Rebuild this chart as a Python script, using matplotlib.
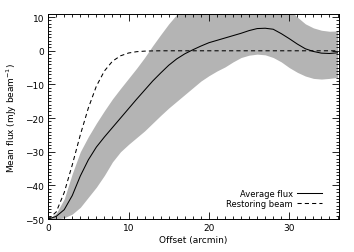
import numpy as np
import matplotlib
matplotlib.use("Agg")
import matplotlib.pyplot as plt
from matplotlib.ticker import MultipleLocator

#Offset in arcmin
offset = [0, 1, 2, 3, 4, 5, 6, 7, 8, 9, 10, 11, 12, 13, 14, 15, 16, 17, 18,
          19, 20, 21, 22, 23, 24, 25, 26, 27, 28, 29, 30, 31, 32, 33, 34, 35, 36]

#Average flux and its spread
mean_flux = [-50, -49.2, -47.2, -43.0, -37.2, -32.4, -28.6, -25.6, -22.8, -20.0,
             -17.2, -14.4, -11.7, -9.0, -6.6, -4.3, -2.4, -0.9, 0.3, 1.4, 2.4,
             3.1, 3.8, 4.5, 5.2, 6.0, 6.6, 6.7, 6.4, 5.1, 3.6, 2.0, 0.6, -0.2,
             -0.7, -0.8, -0.6]
upper_flux = [-50, -48.3, -44.0, -36.5, -30.0, -25.5, -21.5, -17.8, -14.3, -11.2,
              -8.2, -5.2, -2.0, 1.5, 4.8, 8.0, 10.8, 13.5, 15.5, 17.0, 18.0,
              18.5, 19.0, 19.3, 19.5, 19.3, 19.0, 18.0, 16.5, 14.5, 12.2, 10.0,
              8.0, 6.8, 6.1, 5.8, 5.9]
lower_flux = [-50, -50, -49.6, -48.5, -46.5, -43.5, -40.5, -37.0, -33.0, -30.0,
              -27.8, -25.8, -23.8, -21.5, -19.2, -17.0, -15.0, -13.0, -11.0,
              -9.0, -7.4, -6.0, -4.8, -3.3, -2.0, -1.3, -1.0, -1.2, -2.0, -3.3,
              -5.0, -6.4, -7.5, -8.2, -8.4, -8.2, -7.9]

#Restoring beam profile
beam_flux = [-50, -47.9, -42.1, -33.9, -25.0, -17.0, -10.5, -6.0, -3.1, -1.5,
             -0.66, -0.27, -0.1, -0.03, 0, 0, 0, 0, 0, 0, 0, 0, 0, 0, 0, 0, 0,
             0, 0, 0, 0, 0, 0, 0, 0, 0, 0]

plt.rcParams['font.family'] = 'DejaVu Sans'
plt.rcParams['font.size'] = 6.5

fig = plt.figure(figsize=(3.54, 2.53), dpi=100)
ax = fig.add_axes([0.136, 0.130, 0.822, 0.809])

ax.fill_between(offset, lower_flux, upper_flux, color='#b4b4b4', lw=0)
ax.plot(offset, mean_flux, color='k', lw=0.75, label='Average flux')
ax.plot(offset, beam_flux, color='k', lw=0.75, ls=(0, (4, 3)), label='Restoring beam')

ax.set_xlim(0, 36.2)
ax.set_ylim(-50, 10.8)
ax.xaxis.set_major_locator(MultipleLocator(10))
ax.xaxis.set_minor_locator(MultipleLocator(1))
ax.yaxis.set_major_locator(MultipleLocator(10))
ax.yaxis.set_minor_locator(MultipleLocator(1))
ax.tick_params(which='both', direction='in', top=True, right=True, width=0.6, pad=3)
ax.tick_params(which='major', length=5)
ax.tick_params(which='minor', length=2.5)
for s in ax.spines.values():
    s.set_linewidth(0.7)

ax.set_xlabel('Offset (arcmin)', labelpad=2)
ax.set_ylabel('Mean flux (mJy beam$^{-1}$)', labelpad=4)

leg = ax.legend(loc='lower right', frameon=False, markerfirst=False, fontsize=6,
                handlelength=3.0, handletextpad=0.5, labelspacing=0.15,
                borderpad=0, bbox_to_anchor=(0.955, 0.035))

fig.savefig('out.png', dpi=100)
